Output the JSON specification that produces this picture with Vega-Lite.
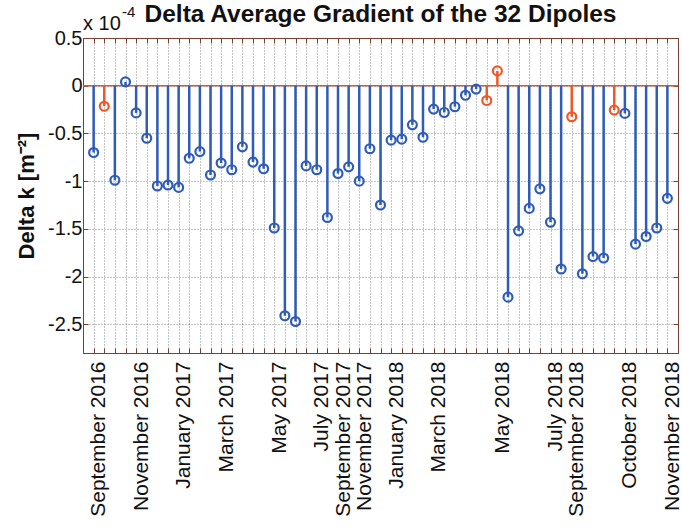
{
  "$schema": "https://vega.github.io/schema/vega-lite/v6.json",
  "width": 595,
  "height": 315,
  "autosize": {"type": "none"},
  "padding": {"left": 83, "top": 38, "right": 4, "bottom": 178},
  "background": "white",
  "config": {
    "view": {"stroke": "#7a3e2c", "strokeWidth": 1},
    "font": "Liberation Sans"
  },
  "title": {
    "text": "Delta Average Gradient of the 32 Dipoles",
    "font": "Liberation Sans",
    "fontSize": 24.5,
    "fontWeight": "bold",
    "color": "#111111",
    "anchor": "middle",
    "frame": "group",
    "baseline": "alphabetic",
    "offset": -41
  },
  "data": {
    "values": [
      {"idx": 1, "dk": -0.70, "flag": "normal"},
      {"idx": 2, "dk": -0.215, "flag": "flagged"},
      {"idx": 3, "dk": -0.99, "flag": "normal"},
      {"idx": 4, "dk": 0.04, "flag": "normal"},
      {"idx": 5, "dk": -0.285, "flag": "normal"},
      {"idx": 6, "dk": -0.55, "flag": "normal"},
      {"idx": 7, "dk": -1.05, "flag": "normal"},
      {"idx": 8, "dk": -1.04, "flag": "normal"},
      {"idx": 9, "dk": -1.065, "flag": "normal"},
      {"idx": 10, "dk": -0.76, "flag": "normal"},
      {"idx": 11, "dk": -0.69, "flag": "normal"},
      {"idx": 12, "dk": -0.935, "flag": "normal"},
      {"idx": 13, "dk": -0.81, "flag": "normal"},
      {"idx": 14, "dk": -0.88, "flag": "normal"},
      {"idx": 15, "dk": -0.64, "flag": "normal"},
      {"idx": 16, "dk": -0.80, "flag": "normal"},
      {"idx": 17, "dk": -0.87, "flag": "normal"},
      {"idx": 18, "dk": -1.49, "flag": "normal"},
      {"idx": 19, "dk": -2.41, "flag": "normal"},
      {"idx": 20, "dk": -2.47, "flag": "normal"},
      {"idx": 21, "dk": -0.84, "flag": "normal"},
      {"idx": 22, "dk": -0.88, "flag": "normal"},
      {"idx": 23, "dk": -1.38, "flag": "normal"},
      {"idx": 24, "dk": -0.92, "flag": "normal"},
      {"idx": 25, "dk": -0.85, "flag": "normal"},
      {"idx": 26, "dk": -1.00, "flag": "normal"},
      {"idx": 27, "dk": -0.66, "flag": "normal"},
      {"idx": 28, "dk": -1.25, "flag": "normal"},
      {"idx": 29, "dk": -0.57, "flag": "normal"},
      {"idx": 30, "dk": -0.56, "flag": "normal"},
      {"idx": 31, "dk": -0.41, "flag": "normal"},
      {"idx": 32, "dk": -0.54, "flag": "normal"},
      {"idx": 33, "dk": -0.245, "flag": "normal"},
      {"idx": 34, "dk": -0.28, "flag": "normal"},
      {"idx": 35, "dk": -0.22, "flag": "normal"},
      {"idx": 36, "dk": -0.10, "flag": "normal"},
      {"idx": 37, "dk": -0.035, "flag": "normal"},
      {"idx": 38, "dk": -0.155, "flag": "flagged"},
      {"idx": 39, "dk": 0.155, "flag": "flagged"},
      {"idx": 40, "dk": -2.215, "flag": "normal"},
      {"idx": 41, "dk": -1.52, "flag": "normal"},
      {"idx": 42, "dk": -1.285, "flag": "normal"},
      {"idx": 43, "dk": -1.08, "flag": "normal"},
      {"idx": 44, "dk": -1.43, "flag": "normal"},
      {"idx": 45, "dk": -1.92, "flag": "normal"},
      {"idx": 46, "dk": -0.325, "flag": "flagged"},
      {"idx": 47, "dk": -1.97, "flag": "normal"},
      {"idx": 48, "dk": -1.79, "flag": "normal"},
      {"idx": 49, "dk": -1.805, "flag": "normal"},
      {"idx": 50, "dk": -0.255, "flag": "flagged"},
      {"idx": 51, "dk": -0.29, "flag": "normal"},
      {"idx": 52, "dk": -1.66, "flag": "normal"},
      {"idx": 53, "dk": -1.58, "flag": "normal"},
      {"idx": 54, "dk": -1.49, "flag": "normal"},
      {"idx": 55, "dk": -1.18, "flag": "normal"}
    ]
  },
  "resolve": {"axis": {"x": "independent", "y": "independent"}},
  "layer": [
    {
      "data": {"values": [{}]},
      "mark": {"type": "rule", "color": "#c8643c", "strokeWidth": 1.5},
      "encoding": {
        "y": {"datum": 0, "type": "quantitative", "axis": null}
      }
    },
    {
      "mark": {"type": "rule", "strokeWidth": 2.5},
      "encoding": {
        "x": {
          "field": "idx",
          "type": "quantitative",
          "scale": {"domain": [0, 56], "nice": false, "zero": false},
          "axis": {
            "orient": "bottom",
            "title": null,
            "values": [1,2,3,4,5,6,7,8,9,10,11,12,13,14,15,16,17,18,19,20,21,22,23,24,25,26,27,28,29,30,31,32,33,34,35,36,37,38,39,40,41,42,43,44,45,46,47,48,49,50,51,52,53,54,55],
            "labelExpr": "datum.value==1?'September 2016':datum.value==5?'November 2016':datum.value==9?'January 2017':datum.value==13?'March 2017':datum.value==18?'May 2017':datum.value==22?'July 2017':datum.value==24?'September 2017':datum.value==26?'November 2017':datum.value==29?'January 2018':datum.value==33?'March 2018':datum.value==39?'May 2018':datum.value==44?'July 2018':datum.value==46?'September 2018':datum.value==51?'October 2018':datum.value==55?'November 2018':''",
            "labelAngle": 270,
            "labelAlign": "right",
            "labelBaseline": "middle",
            "labelOffset": 5,
            "labelPadding": 13,
            "labelFont": "Liberation Sans",
            "labelFontSize": 21,
            "labelColor": "#111111",
            "labelOverlap": false,
            "labelFlush": false,
            "labelBound": false,
            "tickSize": -5,
            "tickColor": "#7a3e2c",
            "domainColor": "#7a3e2c",
            "grid": true,
            "gridColor": "#555555",
            "gridDash": [1, 2],
            "gridWidth": 1,
            "gridOpacity": 0.7
          }
        },
        "y": {
          "field": "dk",
          "type": "quantitative",
          "scale": {"domain": [-2.8, 0.5], "nice": false, "zero": false},
          "axis": {
            "orient": "left",
            "title": "Delta k [m⁻²]",
            "titleFont": "Liberation Sans",
            "titleFontSize": 22,
            "titleFontWeight": "bold",
            "titleColor": "#111111",
            "titlePadding": 9,
            "values": [-2.5, -2, -1.5, -1, -0.5, 0, 0.5],
            "labelExpr": "'' + datum.value",
            "labelFont": "Liberation Sans",
            "labelFontSize": 20,
            "labelColor": "#111111",
            "labelPadding": 6,
            "labelOverlap": false,
            "labelFlush": false,
            "labelBound": false,
            "tickSize": -5,
            "tickColor": "#7a3e2c",
            "domainColor": "#7a3e2c",
            "grid": true,
            "gridColor": "#555555",
            "gridDash": [1, 2],
            "gridWidth": 1,
            "gridOpacity": 0.7
          }
        },
        "y2": {"datum": 0},
        "color": {
          "field": "flag",
          "type": "nominal",
          "scale": {"domain": ["normal", "flagged"], "range": ["#2e5cb8", "#f0582a"]},
          "legend": null
        }
      }
    },
    {
      "mark": {"type": "point", "shape": "circle", "filled": false, "size": 80, "strokeWidth": 2.2, "opacity": 1},
      "encoding": {
        "x": {"field": "idx", "type": "quantitative", "axis": null},
        "y": {"field": "dk", "type": "quantitative", "axis": null},
        "color": {"field": "flag", "type": "nominal", "legend": null}
      }
    },
    {
      "mark": {"type": "point", "opacity": 0},
      "encoding": {
        "x": {
          "field": "idx",
          "type": "quantitative",
          "axis": {
            "orient": "top",
            "title": null,
            "labels": false,
            "grid": false,
            "values": [1,2,3,4,5,6,7,8,9,10,11,12,13,14,15,16,17,18,19,20,21,22,23,24,25,26,27,28,29,30,31,32,33,34,35,36,37,38,39,40,41,42,43,44,45,46,47,48,49,50,51,52,53,54,55],
            "tickSize": -5,
            "tickColor": "#7a3e2c",
            "domainColor": "#7a3e2c"
          }
        },
        "y": {
          "field": "dk",
          "type": "quantitative",
          "axis": {
            "orient": "right",
            "title": null,
            "labels": false,
            "grid": false,
            "values": [-2.5, -2, -1.5, -1, -0.5, 0, 0.5],
            "tickSize": -5,
            "tickColor": "#7a3e2c",
            "domainColor": "#7a3e2c"
          }
        }
      }
    },
    {
      "data": {"values": [{}]},
      "mark": {"type": "text", "text": "x 10", "align": "left", "baseline": "alphabetic", "dy": -8, "font": "Liberation Sans", "fontSize": 20, "color": "#111111"},
      "encoding": {
        "x": {"datum": 0, "type": "quantitative", "axis": null},
        "y": {"datum": 0.5, "type": "quantitative", "axis": null}
      }
    },
    {
      "data": {"values": [{}]},
      "mark": {"type": "text", "text": "-4", "align": "left", "baseline": "alphabetic", "dx": 39, "dy": -21, "font": "Liberation Sans", "fontSize": 15, "color": "#111111"},
      "encoding": {
        "x": {"datum": 0, "type": "quantitative", "axis": null},
        "y": {"datum": 0.5, "type": "quantitative", "axis": null}
      }
    }
  ]
}
